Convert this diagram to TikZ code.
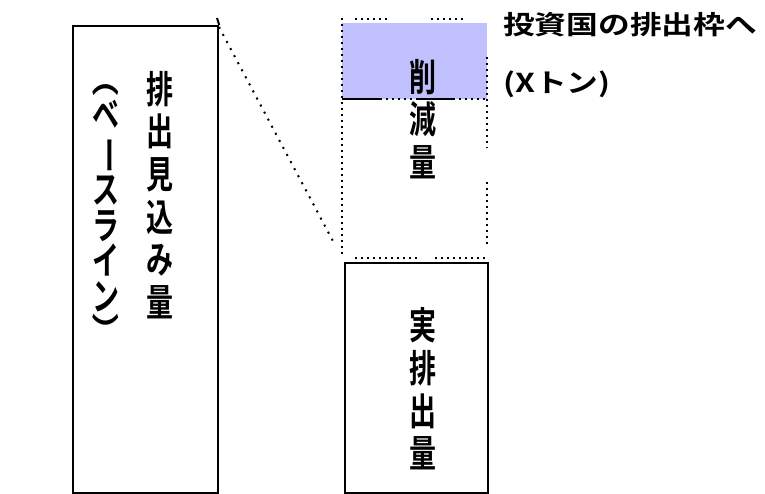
\documentclass[tikz,border=0pt]{standalone}
\usepackage{fontspec}
\setmainfont{Noto Sans CJK JP}[BoldFont={Noto Sans CJK JP Bold}]
\definecolor{lav}{RGB}{192,192,255}
\newcommand{\vrot}[1]{\rotatebox[origin=c]{-90}{#1}}
\begin{document}
\begin{tikzpicture}[x=1pt,y=-1pt,
  box/.style={draw=black,line width=2.2pt},
  dots/.style={line width=2pt,dash pattern=on 2pt off 4pt},
  sparse/.style={line width=2pt,dash pattern=on 2pt off 6pt},
  vtext/.style={inner sep=0pt,align=center,yscale=1.4,transform shape,
    font=\fontsize{27}{30.5}\selectfont\bfseries},
  vtextb/.style={inner sep=0pt,align=center,yscale=1.4,transform shape,
    font=\fontsize{27}{25.5}\selectfont\bfseries},
  htext/.style={inner sep=0pt,anchor=west,xscale=1.22,transform shape,
    font=\fontsize{26}{30}\selectfont\bfseries}]
\useasboundingbox (0,0) rectangle (765,494);
% left box
\node[box,minimum width=145pt,minimum height=467pt,inner sep=0pt,anchor=north west] (base) at (72,25) {};
\coordinate (tick) at (217,18);
\draw[line width=2pt] (tick) -- (base.north east);
\node[vtext] (baselbl) at (160,195) {排\\出\\見\\込\\み\\量};
\node[vtextb] (paren) at (106,205) {\vrot{（}\\ベ\\\vrot{ー}\\ス\\ラ\\イ\\ン\\\vrot{）}};
% diagonal dotted
\coordinate (d1) at (219,27);
\coordinate (d2) at (334,243);
\draw[sparse] (d1) -- (d2);
% blue reduction box
\fill[lav] (342,23) rectangle (487,99);
\coordinate (bl) at (342,99);
\coordinate (br) at (487,99);
\draw[line width=2.5pt] (bl) -- (380,99);
\draw[line width=2.5pt] (417,99) -- (453,99);
\draw[dots] (380,99) -- (417,99);
\draw[dots] (453,99) -- (br);
% dotted outline
\draw[dots] (342,18) -- (342,257);
\draw[dots] (355,19) -- (390,19);
\draw[dots] (431,19) -- (465,19);
\draw[dots] (487,57) -- (487,148);
\draw[dots] (487,182) -- (487,245);
\draw[dots] (355,258) -- (418,258);
\draw[dots] (435,258) -- (486,258);
\node[vtext] (red) at (423,119) {削\\減\\量};
% actual emission box
\node[box,minimum width=143pt,minimum height=230pt,inner sep=0pt,anchor=north west] (actual) at (344,262) {};
\node[vtext] (actlbl) at (423,389) {実\\排\\出\\量};
% label
\node[htext] (note1) at (503,25) {投資国の排出枠へ};
\node[htext] (note2) at (503,84) {(Xトン)};
\end{tikzpicture}
\end{document}
